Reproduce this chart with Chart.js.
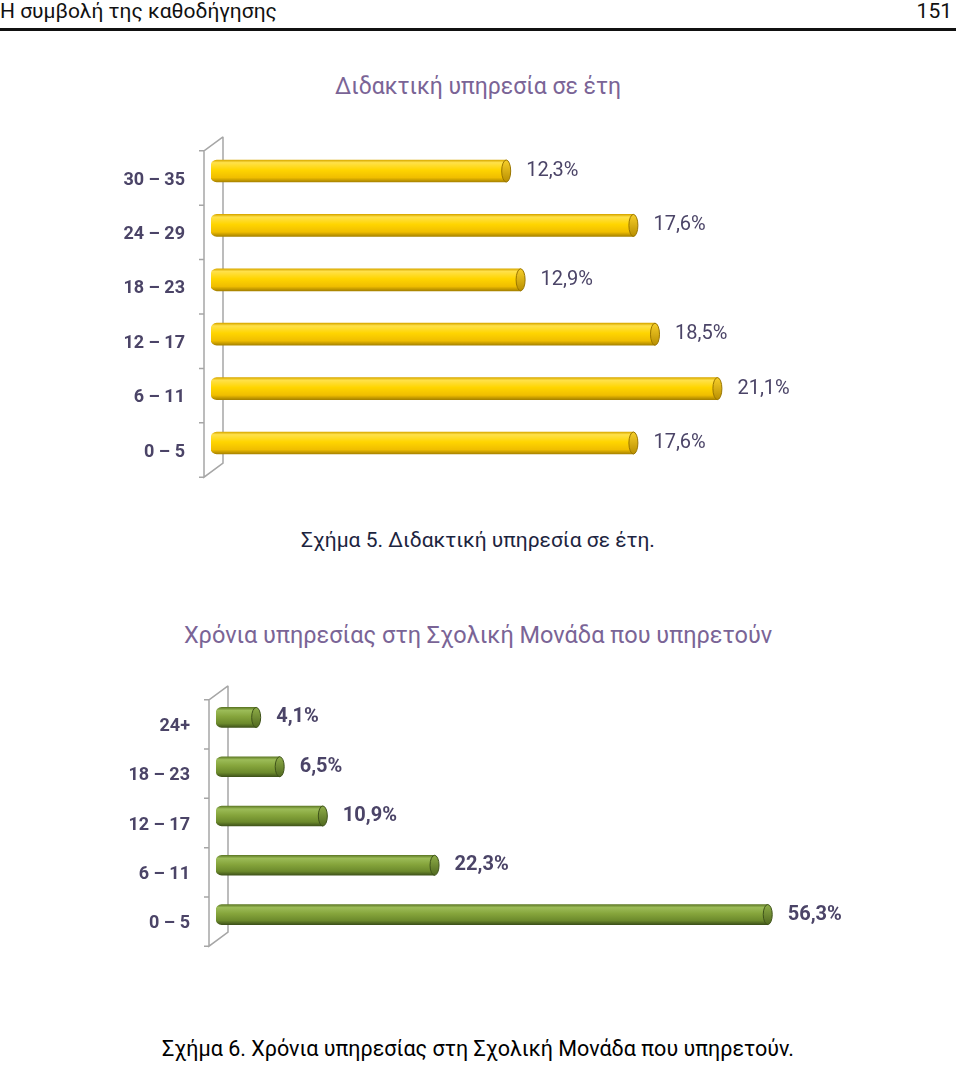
<!DOCTYPE html>
<html lang="el">
<head>
<meta charset="utf-8">
<title>Διδακτική υπηρεσία σε έτη</title>
<script src="https://cdn.jsdelivr.net/npm/chart.js@4/dist/chart.umd.min.js"></script>
<style>
  html, body { margin: 0; padding: 0; background: #fff; }
  body { width: 960px; height: 1065px; position: relative; overflow: hidden; font-family: Roboto, "Noto Sans", sans-serif; }
  .abs { position: absolute; white-space: nowrap; }
  #kefalida { left: 0; top: -1px; font-size: 21px; color: #111; }
  #selida { right: 8px; top: -1px; font-size: 21px; color: #111; }
  #grammi { left: 0; top: 28px; width: 956px; height: 2.5px; background: #111; }
  .titlos { left: 0; width: 956px; text-align: center; color: #7a6496; }
  #titlos1 { top: 73px; font-size: 23px; }
  #titlos2 { top: 621px; font-size: 23.5px; }
  .lezanta { left: 0; width: 956px; text-align: center; }
  #lezanta1 { top: 528px; font-size: 21px; color: #1c2440; }
  #lezanta2 { top: 1036px; font-size: 21.5px; color: #000; }
  canvas { position: absolute; left: 0; }
  #grafima1 { top: 107px; }
  #grafima2 { top: 656px; }
</style>
</head>
<body>
<div id="kefalida" class="abs">Η συμβολή της καθοδήγησης</div>
<div id="selida" class="abs">151</div>
<div id="grammi" class="abs"></div>

<div id="titlos1" class="abs titlos">Διδακτική υπηρεσία σε έτη</div>
<canvas id="grafima1" width="960" height="400"></canvas>
<div id="lezanta1" class="abs lezanta">Σχήμα 5. Διδακτική υπηρεσία σε έτη.</div>

<div id="titlos2" class="abs titlos">Χρόνια υπηρεσίας στη Σχολική Μονάδα που υπηρετούν</div>
<canvas id="grafima2" width="960" height="320"></canvas>
<div id="lezanta2" class="abs lezanta">Σχήμα 6. Χρόνια υπηρεσίας στη Σχολική Μονάδα που υπηρετούν.</div>

<script>
// Δεδομένα - Σχήμα 5
const etiketesEti = ['30 – 35', '24 – 29', '18 – 23', '12 – 17', '6 – 11', '0 – 5'];
const posostaEti = [12.3, 17.6, 12.9, 18.5, 21.1, 17.6];

// Δεδομένα - Σχήμα 6
const etiketesMonada = ['24+', '18 – 23', '12 – 17', '6 – 11', '0 – 5'];
const posostaMonada = [4.1, 6.5, 10.9, 22.3, 56.3];

const xromaKeimenou = '#4b4467';

// μορφή 12,3%
function morfi(v) {
    return v.toFixed(1).replace('.', ',') + '%';
}

// κάθετη διαβάθμιση για "κύλινδρο"
function kylindros(stops, paxos) {
    return function (c) {
        if (c.type !== 'data' || !c.chart.chartArea) return stops[2][1];
        const y = c.chart.scales.y.getPixelForValue(c.dataIndex);
        const g = c.chart.ctx.createLinearGradient(0, y - paxos / 2, 0, y + paxos / 2);
        stops.forEach(s => g.addColorStop(s[0], s[1]));
        return g;
    };
}

// τοίχος 3D στα αριστερά
const toixos = {
    id: 'toixos',
    beforeDatasetsDraw(chart) {
        const { ctx, chartArea } = chart;
        const L = chartArea.left, T = chartArea.top, B = chartArea.bottom;
        const n = chart.data.labels.length;
        const fx = L - 7, bx = L + 12;
        ctx.save();
        ctx.strokeStyle = '#a6a6a6';
        ctx.lineWidth = 1.5;
        ctx.beginPath();
        ctx.moveTo(bx, T - 7);
        ctx.lineTo(bx, B - 7);
        ctx.lineTo(fx, B + 7);
        ctx.lineTo(fx, T + 7);
        ctx.lineTo(bx, T - 7);
        for (let i = 0; i <= n; i++) {
            const y = T + 7 + i * (B - T) / n;
            ctx.moveTo(fx - 5, y);
            ctx.lineTo(fx, y);
        }
        ctx.stroke();
        ctx.restore();
    }
};

// καπάκι στο άκρο και τιμές
const akra = {
    id: 'akra',
    afterDatasetsDraw(chart, args, opts) {
        const ctx = chart.ctx;
        const meta = chart.getDatasetMeta(0);
        ctx.save();
        meta.data.forEach((bar, i) => {
            const h = bar.height;
            const g = ctx.createLinearGradient(0, bar.y - h / 2, 0, bar.y + h / 2);
            g.addColorStop(0, opts.kapaki[0]);
            g.addColorStop(1, opts.kapaki[1]);
            ctx.beginPath();
            ctx.ellipse(bar.x, bar.y, 4.5, h / 2, 0, 0, Math.PI * 2);
            ctx.fillStyle = g;
            ctx.fill();
            ctx.strokeStyle = opts.perigramma;
            ctx.lineWidth = 1;
            ctx.stroke();

            ctx.fillStyle = xromaKeimenou;
            ctx.font = opts.font;
            ctx.textAlign = 'left';
            ctx.textBaseline = 'middle';
            ctx.fillText(morfi(chart.data.datasets[0].data[i]), bar.x + 20, bar.y);
        });
        ctx.restore();
    }
};

function ftiakse(id, etiketes, times, rythmiseis) {
    const ctx = document.getElementById(id).getContext('2d');
    return new Chart(ctx, {
        type: 'bar',
        data: {
            labels: etiketes,
            datasets: [{
                data: times,
                backgroundColor: kylindros(rythmiseis.xromata, rythmiseis.paxos),
                barThickness: rythmiseis.paxos,
                borderSkipped: false,
                borderRadius: { topLeft: 6, bottomLeft: 6, topRight: 0, bottomRight: 0 },
            }],
        },
        options: {
            indexAxis: 'y',
            responsive: false,
            animation: false,
            layout: { padding: rythmiseis.padding },
            plugins: {
                legend: { display: false },
                tooltip: { enabled: false },
                akra: {
                    kapaki: rythmiseis.kapaki,
                    perigramma: rythmiseis.perigramma,
                    font: rythmiseis.fontTimis,
                },
            },
            scales: {
                x: { display: false, min: 0, max: rythmiseis.max },
                y: {
                    grid: { display: false, drawTicks: false },
                    border: { display: false },
                    ticks: {
                        color: xromaKeimenou,
                        font: { family: 'Roboto', size: 18, weight: 'bold' },
                        padding: rythmiseis.pad,
                        labelOffset: 9,
                    },
                    afterFit(scale) { scale.width = rythmiseis.aristera; },
                },
            },
        },
        plugins: [toixos, akra],
    });
}

document.addEventListener('DOMContentLoaded', function () {
    // Σχήμα 5 - κίτρινοι κύλινδροι
    ftiakse('grafima1', etiketesEti, posostaEti, {
        paxos: 22,
        max: 30,
        aristera: 211,
        pad: 26,
        padding: { top: 32, bottom: 34, left: 0, right: 29 },
        xromata: [[0, '#d9a900'], [0.12, '#ffe14a'], [0.45, '#ffd500'], [0.8, '#f0be00'], [1, '#a88300']],
        kapaki: ['#f7cf2a', '#b98f00'],
        perigramma: '#9a7600',
        fontTimis: '20px Roboto',
    });

    // Σχήμα 6 - πράσινοι κύλινδροι
    ftiakse('grafima2', etiketesMonada, posostaMonada, {
        paxos: 20,
        max: 60,
        aristera: 216,
        pad: 26,
        padding: { top: 31, bottom: 35, left: 0, right: 156 },
        xromata: [[0, '#5f7a26'], [0.15, '#9cbc58'], [0.45, '#86a53c'], [0.8, '#6c8a2c'], [1, '#3f531a']],
        kapaki: ['#8fae48', '#51691f'],
        perigramma: '#3f531a',
        fontTimis: 'bold 20px Roboto',
    });
});
</script>
</body>
</html>
